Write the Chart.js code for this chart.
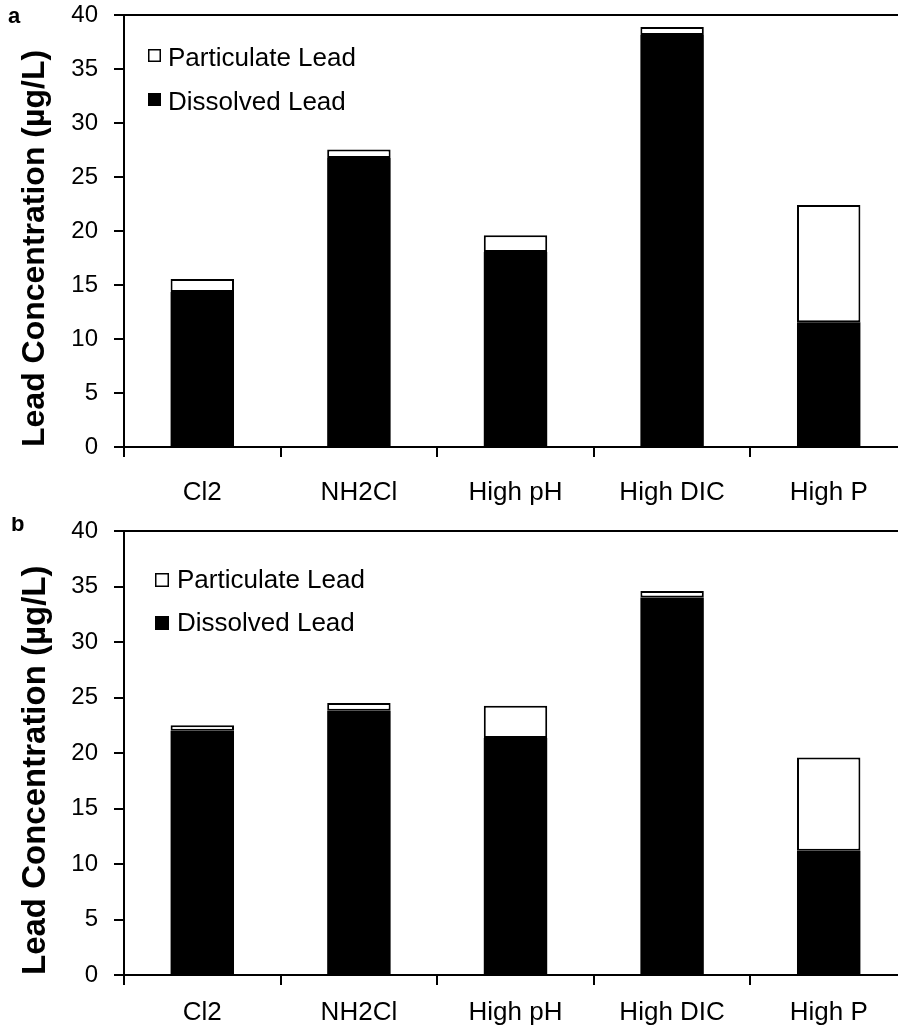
<!DOCTYPE html>
<html>
<head>
<meta charset="utf-8">
<script src="https://cdn.jsdelivr.net/npm/chart.js@4.4.1/dist/chart.umd.min.js"></script>
<style>
  html, body { margin: 0; padding: 0; background: #fff; overflow: hidden; }
  #wrap { position: relative; width: 898px; height: 1034px; overflow: hidden; }
  canvas { position: absolute; left: 0; }
  #chartA { top: 0; }
  #chartB { top: 517px; }
</style>
</head>
<body>
<div id="wrap">
  <canvas id="chartA" width="912" height="517"></canvas>
  <canvas id="chartB" width="912" height="517"></canvas>
</div>
<script>
const categories = ['Cl2', 'NH2Cl', 'High pH', 'High DIC', 'High P'];
const seriesNames = ['Dissolved Lead', 'Particulate Lead'];

// panel a
const dissolvedA = [14.35, 26.75, 18.05, 38.15, 11.55];
const particulateA = [1.2, 0.8, 1.55, 0.75, 10.85];
// panel b
const dissolvedB = [22.0, 23.8, 21.35, 34.0, 11.2];
const particulateB = [0.5, 0.7, 2.9, 0.6, 8.4];

const yMax = 40;
const yStep = 5;
const yTitle = 'Lead Concentration (µg/L)';

const FONT = "'Liberation Sans', Arial, sans-serif";
Chart.defaults.font.family = FONT;
Chart.defaults.color = '#000';

// legend + panel letter drawn on the canvas
const boxLegend = {
  id: 'boxLegend',
  afterDraw(chart, args, o) {
    const ctx = chart.ctx;
    ctx.save();
    ctx.fillStyle = '#000';
    ctx.textBaseline = 'alphabetic';
    ctx.font = 'bold 22px ' + FONT;
    ctx.fillText(o.letter, o.letterX, o.letterY);
    ctx.font = '26px ' + FONT;
    const items = chart.data.datasets.slice().reverse();
    items.forEach((ds, i) => {
      const by = o.boxTop + i * o.rowGap;
      ctx.fillStyle = ds.backgroundColor;
      ctx.fillRect(o.boxX, by, o.box, o.box);
      ctx.lineWidth = 1.5;
      ctx.strokeStyle = '#000';
      ctx.strokeRect(o.boxX + 0.75, by + 0.75, o.box - 1.5, o.box - 1.5);
      ctx.fillStyle = '#000';
      ctx.fillText(ds.label, o.textX, o.baseline + i * o.rowGap);
    });
    ctx.restore();
  }
};

function makeChart(id, dissolved, particulate, lay) {
  return new Chart(document.getElementById(id), {
    type: 'bar',
    data: {
      labels: categories,
      datasets: [
        {
          label: seriesNames[0],
          data: dissolved,
          backgroundColor: '#000',
          borderWidth: 0,
          categoryPercentage: 1,
          barPercentage: 0.405
        },
        {
          label: seriesNames[1],
          data: particulate,
          backgroundColor: '#fff',
          borderColor: '#000',
          borderWidth: 2,
          borderSkipped: false,
          categoryPercentage: 1,
          barPercentage: 0.405
        }
      ]
    },
    options: {
      responsive: false,
      animation: false,
      layout: { padding: { top: lay.top, right: 5, bottom: 0, left: 0 } },
      plugins: {
        legend: { display: false },
        tooltip: { enabled: false },
        boxLegend: lay.legend
      },
      scales: {
        x: {
          stacked: true,
          grid: {
            offset: true,
            drawOnChartArea: false,
            tickLength: 10,
            tickColor: '#000',
            color: '#000',
            lineWidth: 2
          },
          border: { color: '#000', width: 2 },
          ticks: { color: '#000', font: { size: 26 }, padding: lay.xPad, maxRotation: 0 },
          afterFit: s => { s.height = lay.xHeight; s.paddingLeft = 0; s.paddingRight = 0; }
        },
        y: {
          stacked: true,
          min: 0,
          max: yMax,
          ticks: { stepSize: yStep, color: '#000', font: { size: 24 }, padding: 16 },
          grid: {
            color: c => (c.tick && c.tick.value === yMax) ? '#000' : 'rgba(0,0,0,0)',
            tickColor: '#000',
            tickLength: 10,
            lineWidth: 2
          },
          border: { color: '#000', width: 2 },
          title: {
            display: true,
            text: yTitle,
            align: 'start',
            color: '#000',
            font: { size: lay.titleSize, weight: 'bold' },
            padding: { top: 16, bottom: 0 }
          },
          afterFit: s => { s.width = 124; s.paddingTop = 0; s.paddingBottom = 0; }
        }
      }
    },
    plugins: [boxLegend]
  });
}

makeChart('chartA', dissolvedA, particulateA, {
  top: 15, xHeight: 70, xPad: 20, titleSize: 32,
  legend: { letter: 'a', letterX: 8, letterY: 23, boxX: 148, boxTop: 49, box: 13, rowGap: 44, textX: 168, baseline: 66 }
});

makeChart('chartB', dissolvedB, particulateB, {
  top: 14, xHeight: 59, xPad: 12, titleSize: 33,
  legend: { letter: 'b', letterX: 11, letterY: 14, boxX: 155, boxTop: 56, box: 14, rowGap: 43, textX: 177, baseline: 71 }
});
</script>
</body>
</html>
